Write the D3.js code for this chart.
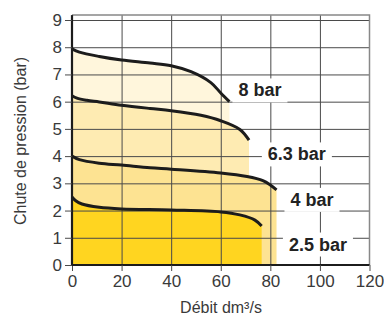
<!DOCTYPE html>
<html>
<head>
<meta charset="utf-8">
<script src="https://cdn.jsdelivr.net/npm/d3@7"></script>
<style>
  body { margin: 0; background: #fff; }
  svg { display: block; font-family: "Liberation Sans", Arial, sans-serif; }
</style>
</head>
<body>
<div id="chart"></div>
<script>
// curves: flow (dm3/s) and pressure drop (bar)
let names = ['8 bar', '6.3 bar', '4 bar', '2.5 bar'];
let flow8 = [0, 3, 11, 20, 31.5, 40, 48, 56, 60, 63.5];
let drop8 = [7.94, 7.82, 7.66, 7.53, 7.42, 7.32, 7.1, 6.7, 6.32, 6.0];
let flow63 = [0, 2, 6, 11, 20, 31.5, 40, 52, 60, 67.7, 71.4];
let drop63 = [6.22, 6.13, 6.05, 5.99, 5.87, 5.75, 5.67, 5.5, 5.3, 4.98, 4.59];
let flow4 = [0, 3, 11, 20, 31.5, 40, 60, 70.6, 77, 80, 82.5];
let drop4 = [4.0, 3.87, 3.74, 3.67, 3.57, 3.52, 3.38, 3.25, 3.1, 2.94, 2.76];
let flow25 = [0, 1.5, 4, 11, 20, 40, 60, 67.7, 73.8, 76.5];
let drop25 = [2.5, 2.36, 2.24, 2.12, 2.06, 2.02, 1.95, 1.84, 1.65, 1.43];
let fills = ['#fff6dc', '#feebb2', '#fde392', '#ffd520'];
// label anchors (data units)
let labelX = [75.8, 90.7, 96.8, 99.2];
let labelY = [6.43, 4.08, 2.41, 0.77];
let xTicks = [0, 20, 40, 60, 80, 100, 120];
let yTicks = [0, 1, 2, 3, 4, 5, 6, 7, 8, 9];

let flows = [flow8, flow63, flow4, flow25];
let drops = [drop8, drop63, drop4, drop25];

let svg = d3.select('#chart').append('svg')
    .attr('width', 384)
    .attr('height', 315);

let x = d3.scaleLinear().domain([0, 120]).range([72, 369.5]);
let y = d3.scaleLinear().domain([0, 9]).range([265, 20]);

let series = names.map((n, i) => ({
    name: n,
    pts: flows[i].map((f, j) => [f, drops[i][j]]),
    fill: fills[i]
}));

let smooth = d3.curveCatmullRom.alpha(0.5);

// filled regions, lightest (highest) first
let area = d3.area()
    .curve(smooth)
    .x(d => x(d[0]))
    .y0(y(0))
    .y1(d => y(d[1]));

svg.append('g').selectAll('path')
    .data(series)
    .join('path')
    .attr('d', d => area(d.pts))
    .attr('fill', d => d.fill);

// grid
let grid = svg.append('g')
    .attr('stroke', '#4a4a4a')
    .attr('stroke-width', 1);
grid.selectAll('.h')
    .data(yTicks.filter(t => t > 0))
    .join('line')
    .attr('x1', x(0)).attr('x2', x(120))
    .attr('y1', d => y(d) + 0.5).attr('y2', d => y(d) + 0.5);
grid.selectAll('.v')
    .data(xTicks.filter(t => t > 0 && t < 120))
    .join('line')
    .attr('y1', y(0)).attr('y2', y(9.18))
    .attr('x1', d => x(d) + 0.5).attr('x2', d => x(d) + 0.5);

// outer frame (top and right, grey)
svg.append('path')
    .attr('d', `M${x(0)},${y(9.18)}H${x(120)}V${y(0)}`)
    .attr('fill', 'none')
    .attr('stroke', '#888')
    .attr('stroke-width', 1.5);

// curves
let line = d3.line()
    .curve(smooth)
    .x(d => x(d[0]))
    .y(d => y(d[1]));

svg.append('g').selectAll('path')
    .data(series)
    .join('path')
    .attr('d', d => line(d.pts))
    .attr('fill', 'none')
    .attr('stroke', '#1c1c1c')
    .attr('stroke-width', 3)
    .attr('stroke-linecap', 'butt');

// labels with white background
let lab = svg.append('g').selectAll('g')
    .data(series)
    .join('g')
    .attr('transform', (d, i) => `translate(${x(labelX[i])},${y(labelY[i])})`);
lab.append('text')
    .attr('text-anchor', 'middle')
    .attr('dy', '0.36em')
    .attr('font-size', 18)
    .attr('font-weight', 'bold')
    .attr('fill', '#222')
    .text(d => d.name);
lab.each(function () {
    let g = d3.select(this);
    let b = g.select('text').node().getBBox();
    g.insert('rect', 'text')
        .attr('x', b.x - 6).attr('y', b.y - 2)
        .attr('width', b.width + 12).attr('height', b.height + 4)
        .attr('fill', '#fff');
});

// axes
let xAxis = svg.append('g')
    .attr('transform', `translate(0,${y(0)})`)
    .call(d3.axisBottom(x).tickValues(xTicks).tickSize(6).tickSizeOuter(0).tickPadding(4));
let yAxis = svg.append('g')
    .attr('transform', `translate(${x(0)},0)`)
    .call(d3.axisLeft(y).tickValues(yTicks).tickSize(7).tickSizeOuter(0).tickPadding(3));

[xAxis, yAxis].forEach(a => {
    a.select('.domain').attr('stroke', '#1c1c1c').attr('stroke-width', 2.2);
    a.selectAll('.tick line').attr('stroke', '#4a4a4a');
    a.selectAll('.tick text')
        .attr('font-size', 17)
        .attr('fill', '#3a3a3a')
        .attr('font-family', '"Liberation Sans", Arial, sans-serif');
});
xAxis.select('.domain').attr('d', `M${x(0) - 1},0H${x(120)}`);
yAxis.select('.domain').attr('d', `M0,${y(0) + 1}V${y(9.18)}`);

// axis titles
svg.append('text')
    .attr('x', 221).attr('y', 313)
    .attr('text-anchor', 'middle')
    .attr('font-size', 16)
    .attr('fill', '#3a3a3a')
    .text('Débit dm³/s');
svg.append('text')
    .attr('transform', 'translate(26,141) rotate(-90)')
    .attr('text-anchor', 'middle')
    .attr('font-size', 16)
    .attr('fill', '#3a3a3a')
    .text('Chute de pression (bar)');
</script>
</body>
</html>
